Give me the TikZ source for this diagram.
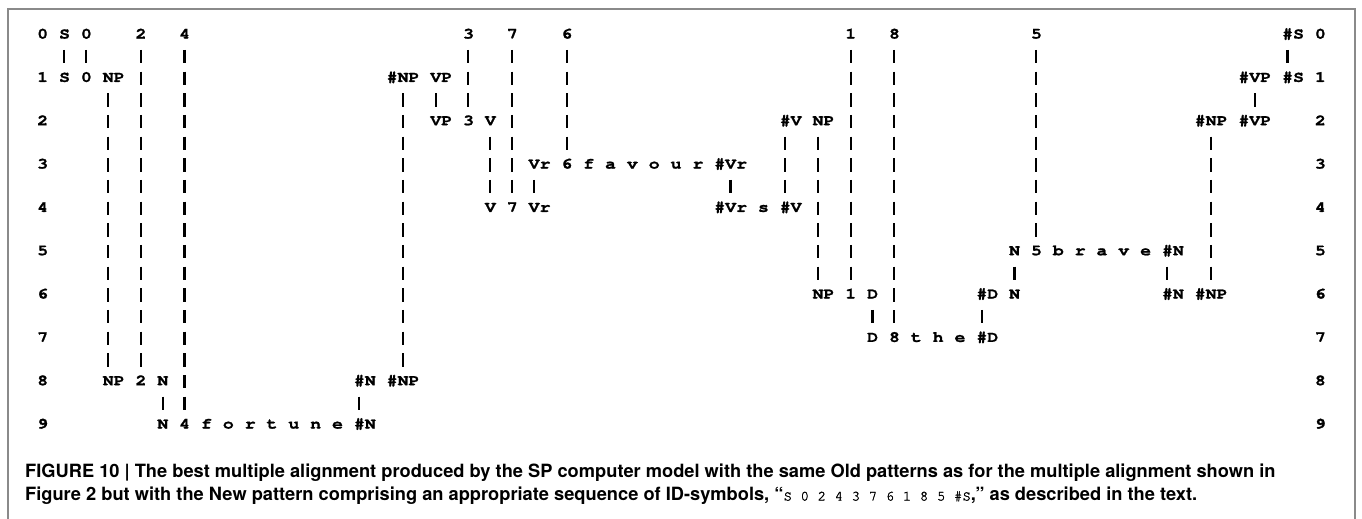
\documentclass[tikz,border=0pt]{standalone}
\usepackage{fontspec}
\usepackage{tikz}
\usetikzlibrary{calc}
\newfontfamily\alnfont{texgyrecursor-bold.otf}[FakeStretch=1.1742, FakeBold=1.2]
\newfontfamily\capmono{texgyrecursor-regular.otf}[FakeBold=1.6]
\newfontfamily\capfont{TeX Gyre Heros}
\definecolor{framegray}{HTML}{8A8A8A}
\def\barx{5.46bp}

\begin{document}
\begin{tikzpicture}[x=1bp, y=1bp,
	sym/.style={anchor=base west, inner sep=0pt, font=\alnfont\fontsize{15.5bp}{18bp}\selectfont},
	idbar/.style={draw, line width=2.2bp, dash pattern=on 13.4bp off 8.27bp,
		to path={([shift={(\barx,-11.37bp)}]\tikztostart.base west) -- ([shift={(\barx,18.57bp)}]\tikztotarget.base west)}},
	midbar/.code={\def\barx{16.38bp}},
	captext/.style={anchor=base west, inner sep=0pt, font=\capfont\bfseries\fontsize{18.26bp}{23bp}\selectfont}]
\useasboundingbox (0,0) rectangle (1362,519);
\fill[white] (0,0) rectangle (1362,519);
\draw[framegray, line width=1.5bp] (8,0) -- (8,510) -- (1355,510) -- (1355,0);

\begin{scope}[shift={(37.04bp,480.4bp)}, x=10.92bp, y=43.33bp]
%\draw[help lines] (0,0) grid (117,-9);
% row 0
\node[sym] (l-0) at (0,0) {0};
\node[sym] (S-0) at (2,0) {S};
\node[sym] (id0-0) at (4,0) {0};
\node[sym] (id2-0) at (9,0) {2};
\node[sym] (id4-0) at (13,0) {4};
\node[sym] (id3-0) at (39,0) {3};
\node[sym] (id7-0) at (43,0) {7};
\node[sym] (id6-0) at (48,0) {6};
\node[sym] (id1-0) at (74,0) {1};
\node[sym] (id8-0) at (78,0) {8};
\node[sym] (id5-0) at (91,0) {5};
\node[sym] (hS-0) at (114,0) {\#S};
\node[sym] (r-0) at (117,0) {0};
% row 1
\node[sym] (l-1) at (0,-1) {1};
\node[sym] (S-1) at (2,-1) {S};
\node[sym] (id0-1) at (4,-1) {0};
\node[sym] (NP-1) at (6,-1) {NP};
\node[sym] (hNP-1) at (32,-1) {\#NP};
\node[sym] (VP-1) at (36,-1) {VP};
\node[sym] (hVP-1) at (110,-1) {\#VP};
\node[sym] (hS-1) at (114,-1) {\#S};
\node[sym] (r-1) at (117,-1) {1};
% row 2
\node[sym] (l-2) at (0,-2) {2};
\node[sym] (VP-2) at (36,-2) {VP};
\node[sym] (id3-2) at (39,-2) {3};
\node[sym] (V-2) at (41,-2) {V};
\node[sym] (hV-2) at (68,-2) {\#V};
\node[sym] (NP-2) at (71,-2) {NP};
\node[sym] (hNP-2) at (106,-2) {\#NP};
\node[sym] (hVP-2) at (110,-2) {\#VP};
\node[sym] (r-2) at (117,-2) {2};
% row 3
\node[sym] (l-3) at (0,-3) {3};
\node[sym] (Vr-3) at (45,-3) {Vr};
\node[sym] (id6-3) at (48,-3) {6};
\node[sym] (favour) at (50,-3) {f a v o u r};
\node[sym] (hVr-3) at (62,-3) {\#Vr};
\node[sym] (r-3) at (117,-3) {3};
% row 4
\node[sym] (l-4) at (0,-4) {4};
\node[sym] (V-4) at (41,-4) {V};
\node[sym] (id7-4) at (43,-4) {7};
\node[sym] (Vr-4) at (45,-4) {Vr};
\node[sym] (hVr-4) at (62,-4) {\#Vr};
\node[sym] (s-4) at (66,-4) {s};
\node[sym] (hV-4) at (68,-4) {\#V};
\node[sym] (r-4) at (117,-4) {4};
% row 5
\node[sym] (l-5) at (0,-5) {5};
\node[sym] (N-5) at (89,-5) {N};
\node[sym] (id5-5) at (91,-5) {5};
\node[sym] (brave) at (93,-5) {b r a v e};
\node[sym] (hN-5) at (103,-5) {\#N};
\node[sym] (r-5) at (117,-5) {5};
% row 6
\node[sym] (l-6) at (0,-6) {6};
\node[sym] (NP-6) at (71,-6) {NP};
\node[sym] (id1-6) at (74,-6) {1};
\node[sym] (D-6) at (76,-6) {D};
\node[sym] (hD-6) at (86,-6) {\#D};
\node[sym] (N-6) at (89,-6) {N};
\node[sym] (hN-6) at (103,-6) {\#N};
\node[sym] (hNP-6) at (106,-6) {\#NP};
\node[sym] (r-6) at (117,-6) {6};
% row 7
\node[sym] (l-7) at (0,-7) {7};
\node[sym] (D-7) at (76,-7) {D};
\node[sym] (id8-7) at (78,-7) {8};
\node[sym] (the) at (80,-7) {t h e};
\node[sym] (hD-7) at (86,-7) {\#D};
\node[sym] (r-7) at (117,-7) {7};
% row 8
\node[sym] (l-8) at (0,-8) {8};
\node[sym] (NP-8) at (6,-8) {NP};
\node[sym] (id2-8) at (9,-8) {2};
\node[sym] (N-8) at (11,-8) {N};
\node[sym] (hN-8) at (29,-8) {\#N};
\node[sym] (hNP-8) at (32,-8) {\#NP};
\node[sym] (r-8) at (117,-8) {8};
% row 9
\node[sym] (l-9) at (0,-9) {9};
\node[sym] (N-9) at (11,-9) {N};
\node[sym] (id4-9) at (13,-9) {4};
\node[sym] (fortune) at (15,-9) {f o r t u n e};
\node[sym] (hN-9) at (29,-9) {\#N};
\node[sym] (r-9) at (117,-9) {9};

\path[idbar]
(S-0) edge (S-1)
(id0-0) edge (id0-1)
(id2-0) edge (id2-8)
(id4-0) edge (id4-9)
(id3-0) edge (id3-2)
(id7-0) edge (id7-4)
(id6-0) edge (id6-3)
(id1-0) edge (id1-6)
(id8-0) edge (id8-7)
(id5-0) edge (id5-5)
(hS-0) edge (hS-1)
(NP-1) edge (NP-8)
(hNP-1) edge[midbar] (hNP-8)
(VP-1) edge (VP-2)
(hVP-1) edge[midbar] (hVP-2)
(V-2) edge (V-4)
(hV-2) edge (hV-4)
(NP-2) edge (NP-6)
(hNP-2) edge[midbar] (hNP-6)
(Vr-3) edge (Vr-4)
(hVr-3) edge[midbar] (hVr-4)
(N-5) edge (N-6)
(hN-5) edge (hN-6)
(D-6) edge (D-7)
(hD-6) edge (hD-7)
(N-8) edge (N-9)
(hN-8) edge (hN-9)
;
\end{scope}

\node[captext] (caption-1) at (25,41.5) {FIGURE 10 | The best multiple alignment produced by the SP computer model with the same Old patterns as for the multiple alignment shown in};
\node[captext] (caption-2) at (25,18.5) {Figure 2 but with the New pattern comprising an appropriate sequence of ID-symbols, “{\capmono\mdseries\fontsize{14.2bp}{16bp}\selectfont S 0 2 4 3 7 6 1 8 5 \#S},” as described in the text.};
\end{tikzpicture}
\end{document}
